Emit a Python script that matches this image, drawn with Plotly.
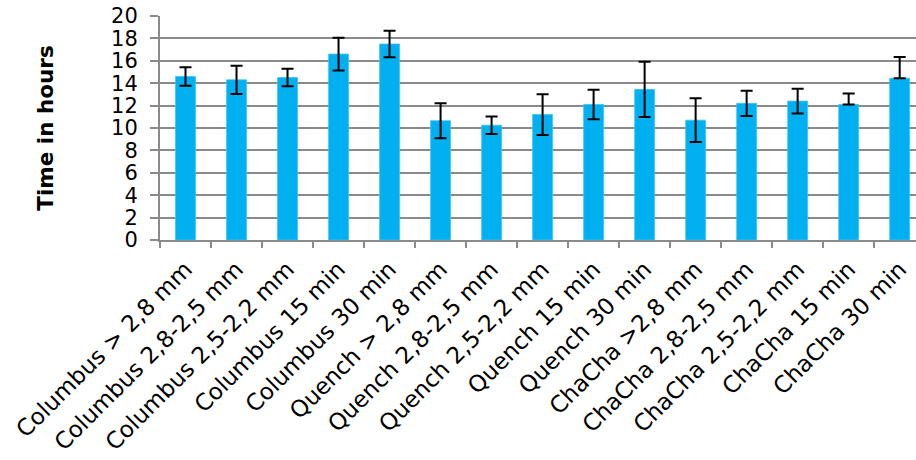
import plotly.graph_objects as go

categories = ["Columbus > 2,8 mm", "Columbus 2,8-2,5 mm", "Columbus 2,5-2,2 mm",
              "Columbus 15 min", "Columbus 30 min", "Quench > 2,8 mm",
              "Quench 2,8-2,5 mm", "Quench 2,5-2,2 mm", "Quench 15 min",
              "Quench 30 min", "ChaCha >2,8 mm", "ChaCha 2,8-2,5 mm",
              "ChaCha 2,5-2,2 mm", "ChaCha 15 min", "ChaCha 30 min"]
hours = [14.6, 14.3, 14.5, 16.6, 17.5, 10.65, 10.25, 11.2, 12.1, 13.45,
         10.7, 12.2, 12.4, 12.1, 14.45]
err_plus = [0.83, 1.26, 0.78, 1.46, 1.19, 1.56, 0.78, 1.82, 1.31, 2.46,
            1.96, 1.13, 1.1, 0.99, 1.88]
err_minus = [0.83, 1.26, 0.78, 1.46, 1.19, 1.56, 0.78, 1.82, 1.31, 2.46,
             1.96, 1.13, 1.1, 0.0, 0.0]
y_ticks = [0, 2, 4, 6, 8, 10, 12, 14, 16, 18, 20]

FONT = "DejaVu Sans"

fig = go.Figure(go.Bar(
    x=categories, y=hours,
    marker=dict(color="#00B0F0", line=dict(color="#3CC4F5", width=0.8)),
    error_y=dict(type="data", symmetric=False, array=err_plus, arrayminus=err_minus,
                 color="#000000", thickness=2, width=6),
))

fig.update_layout(
    width=916, height=460,
    margin=dict(l=160, r=0, t=16, b=220),
    paper_bgcolor="white", plot_bgcolor="white",
    bargap=0.61,
    showlegend=False,
    font=dict(family=FONT, size=20, color="#000000"),
)
fig.update_xaxes(
    type="category",
    range=[-0.5, 14.32],
    automargin=False,
    tickangle=-45,
    tickfont=dict(family=FONT, size=23),
    ticks="outside", ticklen=6, tickcolor="#8a8a8a", tickwidth=1.5,
    tickson="boundaries",
    ticklabelstandoff=5,
    showline=True, linecolor="#8a8a8a", linewidth=1.5,
    showgrid=False,
)
fig.update_yaxes(
    range=[0, 20],
    automargin=False,
    tickvals=y_ticks,
    ticks="outside", ticklen=8, tickcolor="#8a8a8a", tickwidth=1.5,
    ticklabelstandoff=8,
    showline=True, linecolor="#8a8a8a", linewidth=2,
    showgrid=True, gridcolor="#8a8a8a", gridwidth=1.8,
    zeroline=False,
    tickfont=dict(family=FONT, size=21),
    title=dict(text="<b>Time in hours</b>", font=dict(family=FONT, size=21.5), standoff=52),
)

fig.write_html("out.html", config={"displayModeBar": False},
               post_script="document.body.style.margin='0px';")
